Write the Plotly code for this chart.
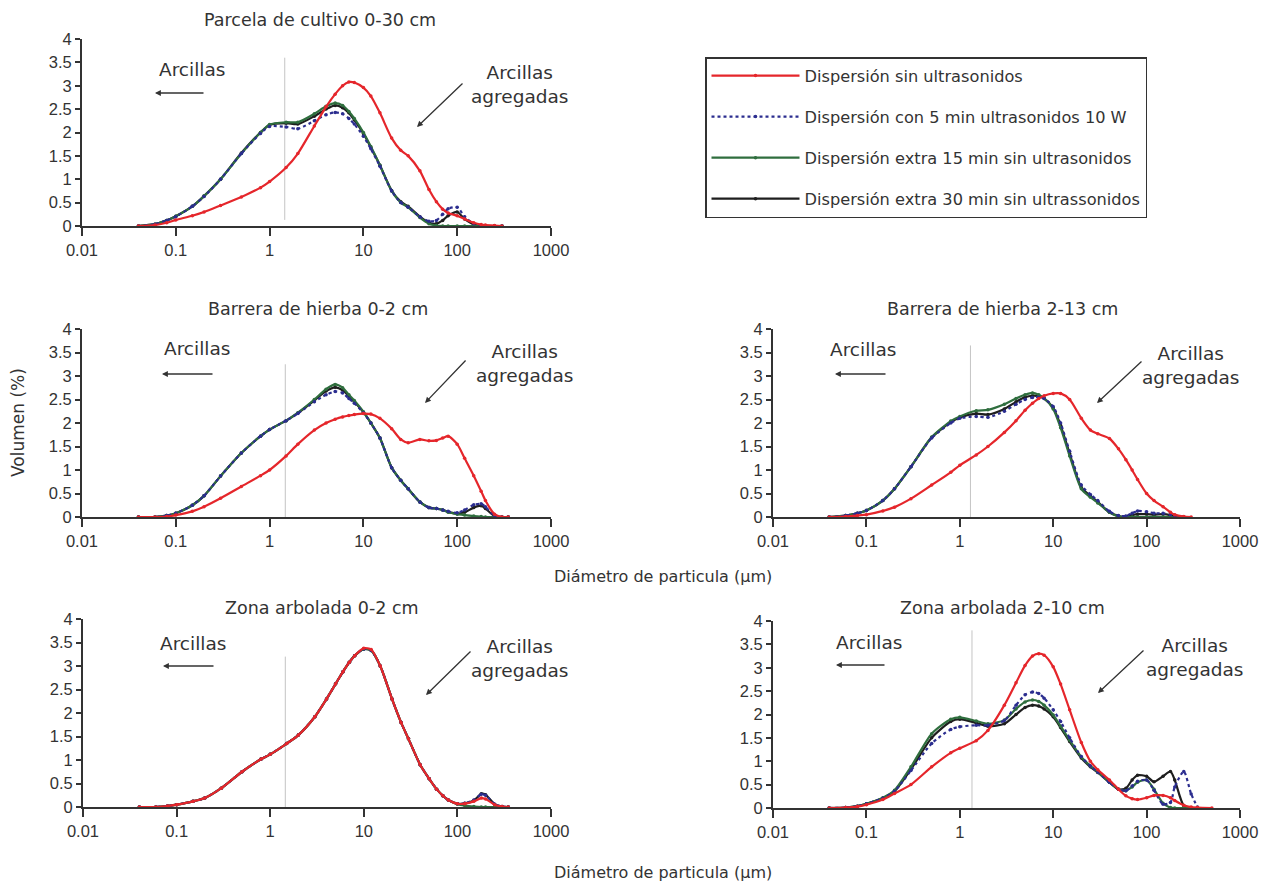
import plotly.graph_objects as go

# ---------------- data ----------------
X = [0.04, 0.06, 0.08, 0.1, 0.15, 0.2, 0.3, 0.5, 0.8, 1, 1.5, 2, 3, 4, 5, 6, 7, 8, 10, 12,
     15, 20, 25, 30, 40, 50, 60, 70, 80, 100, 120, 150, 180, 200, 250, 300, 350, 500]

SERIES = ["Dispersión sin ultrasonidos",
          "Dispersión con 5 min ultrasonidos 10 W",
          "Dispersión extra 15 min sin ultrasonidos",
          "Dispersión extra 30 min sin ultrassonidos"]

TITLES = ["Parcela de cultivo 0-30 cm", "Barrera de hierba 0-2 cm", "Barrera de hierba 2-13 cm",
          "Zona arbolada 0-2 cm", "Zona arbolada 2-10 cm"]

TICK_VALS = [0.01, 0.1, 1, 10, 100, 1000]
TICK_TEXT = ["0.01", "0.1", "1", "10", "100", "1000"]

# Parcela de cultivo 0-30 cm
P1_red = [0, 0.02, 0.07, 0.13, 0.22, 0.3, 0.44, 0.62, 0.82, 0.95, 1.25, 1.55, 2.14, 2.55, 2.82, 3.0, 3.08, 3.07, 2.96, 2.78,
          2.42, 1.88, 1.62, 1.5, 1.18, 0.78, 0.52, 0.36, 0.28, 0.22, 0.15, 0.07, 0.03, 0.02, 0.01, 0, None, None]
P1_blue = [0, 0.04, 0.12, 0.2, 0.42, 0.63, 1.0, 1.55, 1.98, 2.13, 2.12, 2.08, 2.25, 2.38, 2.43, 2.4, 2.3, 2.18, 1.92, 1.65,
           1.28, 0.75, 0.5, 0.4, 0.2, 0.1, 0.12, 0.25, 0.37, 0.4, 0.2, 0.05, 0.01, 0, 0, 0, None, None]
P1_green = [0, 0.04, 0.12, 0.21, 0.42, 0.64, 1.0, 1.55, 2.0, 2.17, 2.22, 2.22, 2.4, 2.56, 2.63, 2.58, 2.45, 2.3, 2.0, 1.7,
            1.3, 0.75, 0.5, 0.4, 0.18, 0.05, 0.01, 0, 0, 0, 0, 0, 0, 0, 0, 0, None, None]
P1_black = [0, 0.04, 0.12, 0.21, 0.42, 0.64, 1.0, 1.56, 2.0, 2.16, 2.2, 2.18, 2.35, 2.5, 2.58, 2.53, 2.42, 2.27, 1.98, 1.68,
            1.3, 0.76, 0.52, 0.42, 0.2, 0.07, 0.05, 0.12, 0.22, 0.3, 0.15, 0.03, 0, 0, 0, 0, None, None]

# Barrera de hierba 0-2 cm
P2_red = [0, 0, 0.01, 0.04, 0.12, 0.22, 0.4, 0.65, 0.88, 1.0, 1.3, 1.55, 1.85, 2.0, 2.08, 2.13, 2.16, 2.18, 2.2, 2.19,
          2.1, 1.88, 1.65, 1.58, 1.65, 1.62, 1.63, 1.68, 1.72, 1.55, 1.25, 0.88, 0.55, 0.35, 0.06, 0, 0, None]
P2_blue = [0, 0, 0.03, 0.08, 0.25, 0.45, 0.87, 1.36, 1.72, 1.86, 2.05, 2.2, 2.45, 2.6, 2.67, 2.64, 2.52, 2.42, 2.22, 2.0,
           1.68, 1.05, 0.78, 0.6, 0.32, 0.2, 0.18, 0.15, 0.12, 0.09, 0.15, 0.26, 0.28, 0.22, 0.03, 0, 0, None]
P2_green = [0, 0, 0.03, 0.08, 0.25, 0.45, 0.87, 1.36, 1.72, 1.86, 2.05, 2.22, 2.5, 2.72, 2.82, 2.75, 2.6, 2.48, 2.24, 2.0,
            1.68, 1.05, 0.78, 0.6, 0.32, 0.2, 0.18, 0.15, 0.1, 0.06, 0.04, 0.02, 0.01, 0, 0, 0, 0, None]
P2_black = [0, 0, 0.03, 0.08, 0.25, 0.45, 0.87, 1.36, 1.72, 1.86, 2.05, 2.21, 2.48, 2.68, 2.76, 2.7, 2.57, 2.45, 2.23, 2.0,
            1.68, 1.05, 0.78, 0.6, 0.32, 0.2, 0.18, 0.15, 0.11, 0.07, 0.1, 0.2, 0.24, 0.18, 0.02, 0, 0, None]

# Barrera de hierba 2-13 cm
P3_red = [0, 0.01, 0.03, 0.05, 0.13, 0.21, 0.39, 0.68, 0.95, 1.1, 1.32, 1.5, 1.8, 2.05, 2.27, 2.42, 2.52, 2.58, 2.63, 2.63,
          2.5, 2.1, 1.85, 1.77, 1.67, 1.45, 1.22, 1.0, 0.8, 0.5, 0.35, 0.22, 0.1, 0.05, 0.01, 0, None, None]
P3_blue = [0, 0.03, 0.08, 0.14, 0.35, 0.6, 1.07, 1.68, 2.0, 2.1, 2.14, 2.12, 2.25, 2.4, 2.5, 2.54, 2.55, 2.52, 2.35, 2.0,
           1.4, 0.68, 0.48, 0.35, 0.12, 0.03, 0.02, 0.08, 0.13, 0.11, 0.08, 0.08, 0.05, 0.02, 0, None, None, None]
P3_green = [0, 0.03, 0.08, 0.14, 0.35, 0.6, 1.07, 1.7, 2.04, 2.14, 2.26, 2.28, 2.4, 2.52, 2.6, 2.64, 2.6, 2.53, 2.3, 1.9,
            1.3, 0.6, 0.42, 0.3, 0.1, 0.01, 0, 0, 0, 0, 0, 0, 0, 0, 0, None, None, None]
P3_black = [0, 0.03, 0.08, 0.14, 0.35, 0.6, 1.07, 1.69, 2.02, 2.12, 2.2, 2.18, 2.3, 2.45, 2.55, 2.58, 2.57, 2.52, 2.32, 1.95,
            1.35, 0.63, 0.45, 0.32, 0.1, 0.02, 0.01, 0.04, 0.06, 0.06, 0.05, 0.06, 0.04, 0.02, 0, None, None, None]

# Zona arbolada 0-2 cm
P4_red = [0, 0, 0.02, 0.05, 0.12, 0.19, 0.4, 0.75, 1.02, 1.12, 1.35, 1.53, 1.92, 2.3, 2.62, 2.88, 3.08, 3.22, 3.38, 3.35,
          3.0, 2.3, 1.8, 1.45, 0.9, 0.6, 0.38, 0.24, 0.15, 0.07, 0.07, 0.12, 0.19, 0.17, 0.05, 0.01, 0, None]
P4_blue = [0, 0, 0.02, 0.05, 0.12, 0.19, 0.4, 0.75, 1.02, 1.12, 1.35, 1.53, 1.92, 2.3, 2.62, 2.88, 3.08, 3.22, 3.36, 3.33,
           3.0, 2.3, 1.8, 1.45, 0.9, 0.6, 0.38, 0.24, 0.15, 0.07, 0.08, 0.15, 0.27, 0.25, 0.06, 0.01, 0, None]
P4_green = [0, 0, 0.02, 0.05, 0.12, 0.19, 0.4, 0.75, 1.02, 1.12, 1.35, 1.53, 1.92, 2.3, 2.62, 2.88, 3.08, 3.22, 3.36, 3.33,
            3.0, 2.3, 1.8, 1.45, 0.9, 0.6, 0.38, 0.24, 0.15, 0.06, 0.03, 0.01, 0, 0, 0, 0, 0, None]
P4_black = [0, 0, 0.02, 0.05, 0.12, 0.19, 0.4, 0.75, 1.02, 1.12, 1.35, 1.53, 1.92, 2.3, 2.62, 2.88, 3.08, 3.22, 3.36, 3.33,
            3.0, 2.3, 1.8, 1.45, 0.9, 0.6, 0.38, 0.24, 0.15, 0.07, 0.08, 0.14, 0.28, 0.26, 0.06, 0.01, 0, None]

# Zona arbolada 2-10 cm
P5_red = [0, 0.01, 0.03, 0.07, 0.18, 0.31, 0.5, 0.88, 1.18, 1.28, 1.44, 1.66, 2.2, 2.68, 3.05, 3.25, 3.3, 3.27, 3.02, 2.65,
          2.1, 1.4, 1.0, 0.82, 0.6, 0.4, 0.26, 0.2, 0.18, 0.22, 0.27, 0.27, 0.22, 0.16, 0.06, 0.02, 0.01, 0]
P5_blue = [0, 0.01, 0.04, 0.09, 0.21, 0.36, 0.8, 1.38, 1.68, 1.74, 1.77, 1.77, 1.87, 2.2, 2.42, 2.48, 2.45, 2.35, 2.1, 1.85,
           1.5, 1.1, 0.9, 0.77, 0.55, 0.4, 0.37, 0.47, 0.57, 0.6, 0.38, 0.08, 0.12, 0.45, 0.78, 0.3, 0.02, None]
P5_green = [0, 0.01, 0.04, 0.09, 0.22, 0.38, 0.88, 1.59, 1.9, 1.94, 1.86, 1.8, 1.88, 2.12, 2.27, 2.31, 2.28, 2.2, 1.99, 1.75,
            1.45, 1.09, 0.9, 0.77, 0.55, 0.4, 0.37, 0.45, 0.55, 0.6, 0.4, 0.1, 0.01, 0, 0, 0, 0, None]
P5_black = [0, 0.01, 0.04, 0.09, 0.21, 0.36, 0.83, 1.5, 1.85, 1.9, 1.82, 1.75, 1.8, 2.0, 2.15, 2.2, 2.18, 2.12, 1.95, 1.72,
            1.42, 1.07, 0.88, 0.76, 0.55, 0.4, 0.42, 0.6, 0.7, 0.68, 0.56, 0.68, 0.78, 0.6, 0.05, 0, 0, None]

PANELS = [
    [P1_red, P1_blue, P1_green, P1_black],
    [P2_red, P2_blue, P2_green, P2_black],
    [P3_red, P3_blue, P3_green, P3_black],
    [P4_red, P4_blue, P4_green, P4_black],
    [P5_red, P5_blue, P5_green, P5_black],
]

# thin grey separator line (clay limit) per panel
VLINE_X = [1.45, 1.47, 1.3, 1.45, 1.35]
VLINE_Y0 = [0.13, 0, 0, 0, 0]
VLINE_Y1 = [3.6, 3.25, 3.65, 3.2, 3.8]

# ---------------- style / layout ----------------
W, H = 1262, 882
COLORS = ["#e5262b", "#2b2d8f", "#2f6e3e", "#1e1e1e"]
DASHES = ["solid", "dot", "solid", "solid"]
TXT = "#333333"
FONT = "DejaVu Sans"

# pixel boxes of each panel: (left, right, top, bottom)
BOXES = [(82, 551, 39, 226), (82, 551, 329, 517), (773, 1240, 329, 517),
         (83, 551, 619, 807), (773, 1240, 621, 808)]


def px(x):
    return x / W


def py(y):
    return 1 - y / H


fig = go.Figure()
draw_order = [3, 2, 1, 0]
for p, series in enumerate(PANELS):
    ax = "x" if p == 0 else f"x{p + 1}"
    ay = "y" if p == 0 else f"y{p + 1}"
    fig.add_trace(go.Scatter(x=[VLINE_X[p], VLINE_X[p]], y=[VLINE_Y0[p], VLINE_Y1[p]],
                             mode="lines", line=dict(color="#c4c4c4", width=1),
                             showlegend=False, hoverinfo="skip", xaxis=ax, yaxis=ay))
    for s in draw_order:
        fig.add_trace(go.Scatter(
            x=X, y=series[s], name=SERIES[s], mode="lines+markers",
            line=dict(color=COLORS[s], width=2.2, dash=DASHES[s], shape="spline", smoothing=0.7),
            marker=dict(color=COLORS[s], size=3.5),
            legendgroup=SERIES[s], legendrank=s + 1, showlegend=(p == 0),
            xaxis=ax, yaxis=ay))

layout = dict(
    width=W, height=H, margin=dict(l=0, r=0, t=0, b=0),
    paper_bgcolor="white", plot_bgcolor="white",
    font=dict(family=FONT, color=TXT, size=15),
    legend=dict(x=px(705), y=py(57), xanchor="left", yanchor="top",
                bordercolor="#333333", borderwidth=1.5, bgcolor="white",
                font=dict(family=FONT, size=16.2, color=TXT),
                itemwidth=88, tracegroupgap=17, traceorder="grouped"),
    annotations=[], showlegend=True,
)

for p, (l, r, t, b) in enumerate(BOXES):
    xk = "xaxis" if p == 0 else f"xaxis{p + 1}"
    yk = "yaxis" if p == 0 else f"yaxis{p + 1}"
    ya = "y" if p == 0 else f"y{p + 1}"
    xa = "x" if p == 0 else f"x{p + 1}"
    layout[xk] = dict(type="log", range=[-2, 3], domain=[px(l), px(r)], anchor=ya,
                      tickvals=TICK_VALS, ticktext=TICK_TEXT, ticks="outside", ticklen=8,
                      tickwidth=1.5, tickcolor="#333", showline=True, linecolor="#333",
                      linewidth=2, showgrid=False, zeroline=False, automargin=False,
                      tickfont=dict(family="Liberation Sans", size=16.5, color=TXT))
    layout[yk] = dict(range=[0, 4], domain=[py(b), py(t)], anchor=xa, dtick=0.5,
                      ticks="outside", ticklen=5, tickwidth=1.5, tickcolor="#333",
                      showline=True, linecolor="#333", linewidth=2, showgrid=False,
                      zeroline=False, automargin=False,
                      tickfont=dict(family="Liberation Sans", size=16.5, color=TXT))

fig.update_layout(**layout)


def label(x, y, text, size, **kw):
    fig.add_annotation(x=px(x), y=py(y), xref="paper", yref="paper", text=text,
                       showarrow=False, xanchor="center", yanchor="middle",
                       font=dict(size=size, family=FONT, color=TXT), **kw)


# titles
TITLE_POS = [(320, 20), (318, 309), (1002, 309), (322, 608), (1002, 608)]
for (tx, ty), t in zip(TITLE_POS, TITLES):
    label(tx, ty, t, 17.5)

# "Arcillas" labels with left arrows, "Arcillas agregadas" with diagonal arrows
ARC_TXT = [(192, 70), (197, 348), (863, 350), (193, 643), (869, 642)]
ARC_ARROW = [((205, 93), (155, 93)), ((214, 374), (162, 374)), ((887, 374), (835, 374)),
             ((215, 666), (163, 666)), ((886, 665), (836, 665))]
AGG_TXT = [(519, 85), (524, 363), (1190, 365), (519, 658), (1194, 657)]
AGG_ARROW = [((464, 82), (417, 127)), ((467, 359), (425, 403)), ((1143, 360), (1097, 403)),
             ((472, 650), (426, 695)), ((1145, 649), (1098, 693))]

for i in range(5):
    label(ARC_TXT[i][0], ARC_TXT[i][1], "Arcillas", 18.5)
    label(AGG_TXT[i][0], AGG_TXT[i][1], "Arcillas<br>agregadas", 18.5, align="center")
    for (tail, head) in (ARC_ARROW[i], AGG_ARROW[i]):
        fig.add_annotation(x=px(head[0]), y=py(head[1]), xref="paper", yref="paper",
                           ax=tail[0] - head[0], ay=tail[1] - head[1], text="",
                           showarrow=True, arrowhead=2, arrowsize=0.9, arrowwidth=1.3,
                           arrowcolor="#333")

# axis titles
label(18, 423, "Volumen (%)", 17, textangle=-90)
for yy in (576, 872):
    label(663, yy, "Diámetro de particula (μm)", 16)

fig.write_html("out.html")
